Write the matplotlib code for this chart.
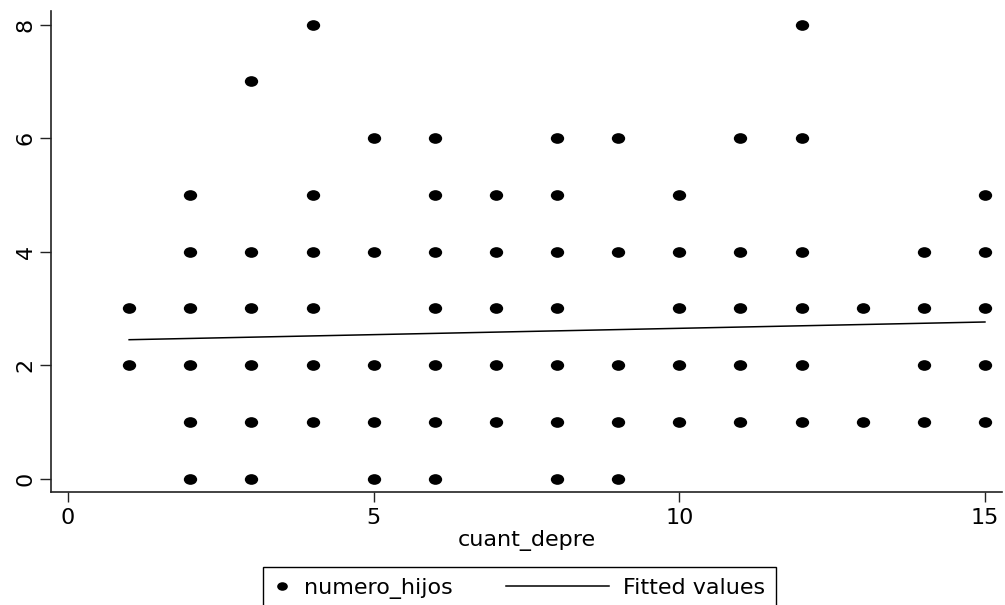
import numpy as np
import matplotlib
matplotlib.use("Agg")
import matplotlib.pyplot as plt
from matplotlib.path import Path
from matplotlib.transforms import Affine2D
from matplotlib.lines import Line2D
from matplotlib.legend_handler import HandlerLine2D

# ---- data ----
cuant_depre = [1, 1,
               2, 2, 2, 2, 2, 2,
               3, 3, 3, 3, 3, 3,
               4, 4, 4, 4, 4, 4,
               5, 5, 5, 5, 5,
               6, 6, 6, 6, 6, 6, 6,
               7, 7, 7, 7, 7,
               8, 8, 8, 8, 8, 8, 8,
               9, 9, 9, 9, 9,
               10, 10, 10, 10, 10,
               11, 11, 11, 11, 11,
               12, 12, 12, 12, 12, 12,
               13, 13,
               14, 14, 14, 14,
               15, 15, 15, 15, 15]
numero_hijos = [3, 2,
                5, 4, 3, 2, 1, 0,
                7, 4, 3, 2, 1, 0,
                8, 5, 4, 3, 2, 1,
                6, 4, 2, 1, 0,
                6, 5, 4, 3, 2, 1, 0,
                5, 4, 3, 2, 1,
                6, 5, 4, 3, 2, 1, 0,
                6, 4, 2, 1, 0,
                5, 4, 3, 2, 1,
                6, 4, 3, 2, 1,
                8, 6, 4, 3, 2, 1,
                3, 1,
                4, 3, 2, 1,
                5, 4, 3, 2, 1]
fit_intercept = 2.427
fit_slope = 0.0223
fit_range = [1, 15]
x_ticks = [0, 5, 10, 15]
y_ticks = [0, 2, 4, 6, 8]
x_label = "cuant_depre"
legend_labels = ["numero_hijos", "Fitted values"]

plt.rcParams['font.family'] = ['DejaVu Sans']
FS = 16

W, H = 1005, 605
fig = plt.figure(figsize=(W / 100, H / 100), dpi=100)
fig.patch.set_facecolor('white')

# axes placement (pixels)
L, R, T, B = 51, 1002, 11, 492
ax = fig.add_axes([L / W, 1 - B / H, (R - L) / W, (B - T) / H])
ax.set_xlim(-0.278, 15.279)
ax.set_ylim(-0.234, 8.241)

ellipse = Path.unit_circle().transformed(Affine2D().scale(1.25, 1.0))

ax.plot(cuant_depre, numero_hijos, linestyle='none', marker=ellipse,
        markersize=9.6, color='black', markeredgewidth=0, label=legend_labels[0])
fx = np.array(fit_range, dtype=float)
ax.plot(fx, fit_intercept + fit_slope * fx, color='black', linewidth=1.1,
        label=legend_labels[1])

for s in ['top', 'right']:
    ax.spines[s].set_visible(False)
for s in ['left', 'bottom']:
    ax.spines[s].set_linewidth(1.2)
    ax.spines[s].set_color('#222222')

ax.set_xticks(x_ticks)
ax.set_yticks(y_ticks)
ax.tick_params(axis='x', length=7.2, width=1.0, color='#222222', labelsize=FS, pad=4)
ax.tick_params(axis='y', length=7.9, width=1.0, color='#222222', labelsize=FS, pad=3)
for lab in ax.get_yticklabels():
    lab.set_rotation(90)
    lab.set_va('center')
ax.set_xlabel(x_label, fontsize=FS, labelpad=2)

# ---- legend ----
class LongLineHandler(HandlerLine2D):
    def __init__(self, length_pt, **kw):
        super().__init__(**kw)
        self.length_pt = length_pt

    def create_artists(self, legend, orig_handle, xdescent, ydescent,
                       width, height, fontsize, trans):
        xdata = np.array([width - xdescent - self.length_pt, width - xdescent])
        ydata = np.full(2, (height - ydescent) / 2)
        line = Line2D(xdata, ydata)
        self.update_prop(line, orig_handle, legend)
        line.set_marker('None')
        line.set_transform(trans)
        return [line]

px2pt = 72 / 100
fs_px = FS / px2pt
tmp = fig.text(0, 0, legend_labels[0], fontsize=FS)
fig.canvas.draw()
w1 = tmp.get_window_extent().width
tmp.remove()

bp, hl, htp = 11, 16, 14         # pixels
line_len = 103                   # pixels
cs = (623 - htp - hl) - (263 + bp + hl + htp + w1)
handles = ax.get_legend_handles_labels()[0]
leg = fig.legend(handles, legend_labels, loc='upper left',
                 bbox_to_anchor=(263 / W, 1 - 567 / H), borderaxespad=0,
                 ncol=2, fontsize=FS, frameon=True, fancybox=False,
                 borderpad=bp / fs_px, handlelength=hl / fs_px,
                 handletextpad=htp / fs_px, columnspacing=cs / fs_px,
                 markerscale=0.8, handleheight=0.7,
                 handler_map={handles[1]: LongLineHandler(line_len * px2pt)})
leg.get_frame().set_edgecolor('black')
leg.get_frame().set_linewidth(1.0)
leg.get_frame().set_facecolor('white')
leg.get_frame().set_alpha(None)

fig.savefig("out.png", dpi=100, facecolor='white')
